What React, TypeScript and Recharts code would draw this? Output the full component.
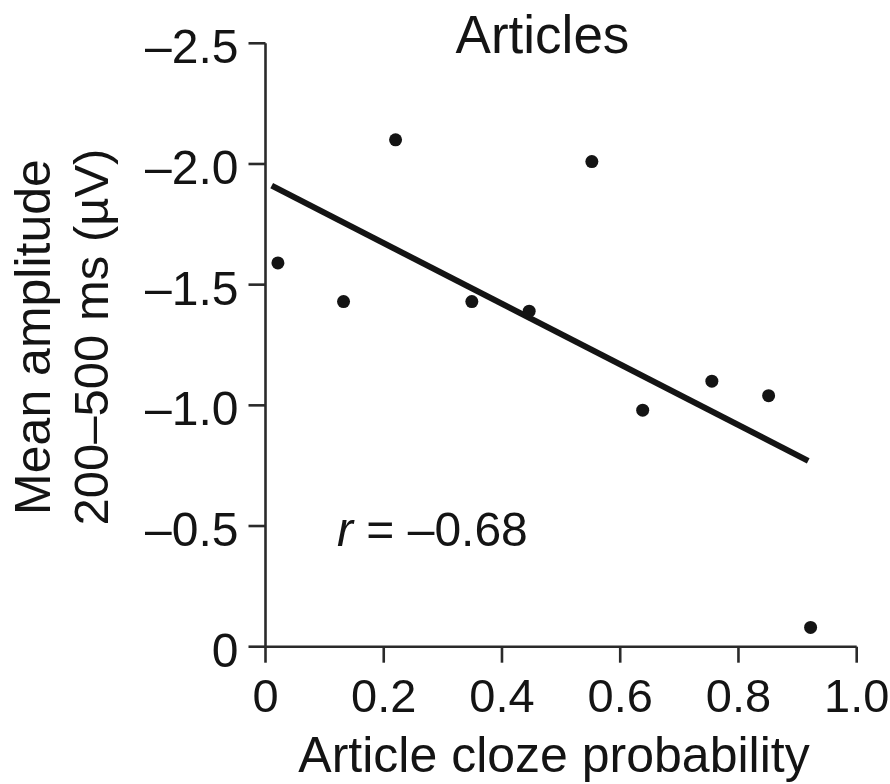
import React from "react";
import { ScatterChart, Scatter, XAxis, YAxis, ReferenceLine } from "recharts";

const clozeProbability = [0.021, 0.132, 0.22, 0.349, 0.446, 0.552, 0.638, 0.755, 0.851, 0.922];
const meanAmplitude = [-1.59, -1.43, -2.1, -1.43, -1.39, -2.01, -0.98, -1.1, -1.04, -0.08];
const fitStart = { x: 0.0105, y: -1.91 };
const fitEnd = { x: 0.918, y: -0.77 };
const xTicks = [0, 0.2, 0.4, 0.6, 0.8, 1.0];
const yTicks = [0, -0.5, -1.0, -1.5, -2.0, -2.5];
const correlationText = "r";
const correlationValue = " = –0.68";

const points = clozeProbability.map((x, i) => ({ x, y: meanAmplitude[i] }));

const FONT = "'Liberation Sans', Arial, Helvetica, sans-serif";
const INK = "#141414";

const fmtX = (v: number) => (v === 0 ? "0" : v.toFixed(1));
const fmtY = (v: number) => (v === 0 ? "0" : v.toFixed(1).replace("-", "–"));

const Dot = (props: any) => <circle cx={props.cx} cy={props.cy} r={6.5} fill={INK} />;

export default function App() {
  return (
    <div style={{ position: "fixed", left: 0, top: 0, width: 890, height: 784, overflow: "hidden" }}>
      <ScatterChart
        width={890}
        height={784}
        margin={{ top: 43.3, right: 33.3, left: 0, bottom: 0 }}
        style={{ fontFamily: FONT, overflow: "visible" }}
      >
        <XAxis
          type="number"
          dataKey="x"
          domain={[0, 1]}
          ticks={xTicks}
          tickFormatter={fmtX}
          height={137.3}
          tickSize={16}
          tickMargin={16}
          axisLine={{ stroke: "#2a2a2a", strokeWidth: 2.6 }}
          tickLine={{ stroke: "#2a2a2a", strokeWidth: 2.6 }}
          tick={{ fill: INK, fontSize: 47, fontFamily: FONT }}
          interval={0}
        />
        <YAxis
          type="number"
          dataKey="y"
          domain={[-2.5, 0]}
          reversed
          ticks={yTicks}
          tickFormatter={fmtY}
          width={265.5}
          tickSize={17}
          tickMargin={10}
          axisLine={{ stroke: "#2a2a2a", strokeWidth: 2.6 }}
          tickLine={{ stroke: "#2a2a2a", strokeWidth: 2.6 }}
          tick={{ fill: INK, fontSize: 48, fontFamily: FONT, dy: 3 }}
          interval={0}
        />
        <ReferenceLine
          segment={[fitStart, fitEnd]}
          stroke={INK}
          strokeWidth={6}
          ifOverflow="visible"
        />
        <Scatter data={points} shape={Dot} isAnimationActive={false} />
        <text x={542.5} y={53} textAnchor="middle" fontSize={53} fill={INK} fontFamily={FONT}>
          Articles
        </text>
        <text x={337} y={546} textAnchor="start" fontSize={48} fill={INK} fontFamily={FONT}>
          <tspan fontStyle="italic">{correlationText}</tspan>
          <tspan>{correlationValue}</tspan>
        </text>
        <text x={554} y={772} textAnchor="middle" fontSize={50} fill={INK} fontFamily={FONT}>
          Article cloze probability
        </text>
        <text
          transform="translate(50,337) rotate(-90)"
          textAnchor="middle"
          fontSize={50}
          fill={INK}
          fontFamily={FONT}
        >
          Mean amplitude
        </text>
        <text
          transform="translate(108,337) rotate(-90)"
          textAnchor="middle"
          fontSize={49}
          fill={INK}
          fontFamily={FONT}
        >
          200–500 ms (µV)
        </text>
      </ScatterChart>
    </div>
  );
}
